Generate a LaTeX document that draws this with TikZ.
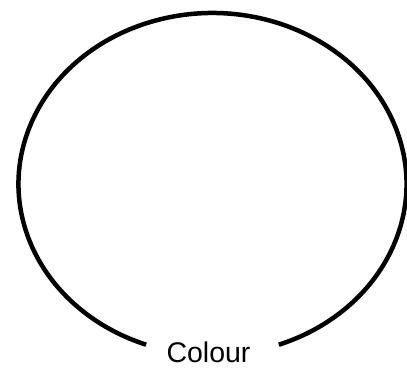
\documentclass[tikz,border=0pt]{standalone}
\usepackage{fontspec}
\setmainfont{Liberation Sans}
\usetikzlibrary{calc}
\begin{document}
\begin{tikzpicture}[x=1pt,y=1pt]
\useasboundingbox (0,0) rectangle (407,368);
% Outline with gap at the bottom
\coordinate (centre) at (212.5,184);
\draw[line width=4.5pt] ($(centre)+(290:194 and 171)$) arc[start angle=290, end angle=610, x radius=194, y radius=171];

% Label
\node[anchor=base, font=\fontsize{28.5}{32}\selectfont, inner sep=0pt] (colour) at (208.5,6) {Colour};
\end{tikzpicture}
\end{document}
